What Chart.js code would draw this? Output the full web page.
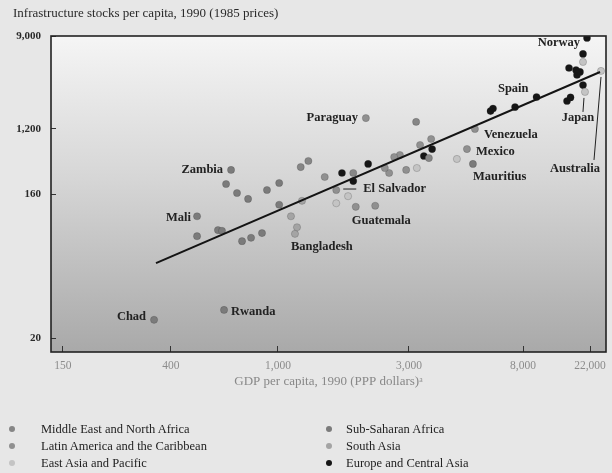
<!DOCTYPE html>
<html>
<head>
<meta charset="utf-8">
<script src="https://cdn.jsdelivr.net/npm/chart.js@4/dist/chart.umd.min.js"></script>
<style>
  html, body { margin: 0; padding: 0; background: #e7e7e7; }
  #wrap { position: relative; width: 612px; height: 473px; overflow: hidden; }
  #chart { position: absolute; left: 0; top: 0; }
  #legend { position: absolute; left: 0; top: 0; width: 612px; height: 473px; pointer-events: none;
            font-family: "Liberation Serif", serif; font-size: 12.5px; color: #222; }
  .lg-text { position: absolute; white-space: nowrap; line-height: 14px; }
  .lg-dot { position: absolute; width: 6px; height: 6px; border-radius: 50%; }
</style>
</head>
<body>
<div id="wrap">
  <canvas id="chart" width="612" height="473"></canvas>
  <div id="legend"></div>
</div>
<script>
// ---- Data: GDP per capita (PPP dollars) and infrastructure stock per capita, 1990 ----
const xTickValues = [150, 400, 1000, 3000, 8000, 22000];
const yTickValues = [20, 160, 1200, 9000];

const regionNames = [
  'Middle East and North Africa',
  'Latin America and the Caribbean',
  'East Asia and Pacific',
  'Sub-Saharan Africa',
  'South Asia',
  'Europe and Central Asia'
];

const menaGdp   = [3190, 3560, 1290, 1210, 1880];
const menaStock = [1400, 488, 445, 369, 307];

const lacGdp   = [2090, 5290, 4940, 1630, 1920, 2260, 2540, 2930, 2780, 2650, 2450, 3630, 3300, 1480];
const lacStock = [1520, 1200, 645, 181, 133, 135, 307, 337, 536, 504, 358, 880, 731, 271];

const eapGdp   = [25970, 20390, 19790, 4530, 3210, 1800, 1630];
const eapStock = [4220, 2680, 5130, 474, 358, 155, 140];

const ssaGdp   = [669, 641, 704, 774, 910, 1010, 500, 500, 598, 619, 735, 794, 872, 630, 343, 5200, 1010];
const ssaStock = [337, 218, 165, 149, 181, 225, 116, 87, 95, 94, 81, 85, 91, 30, 26, 406, 137];

const saGdp   = [1153, 1173, 1223, 1115];
const saStock = [90, 99, 145, 116];

const ecaGdp   = [21020, 19790, 16020, 17810, 18910, 18080, 19790, 16390, 15540, 9810, 7470, 6180, 6050, 1710, 1880, 2130, 3410, 3660];
const ecaStock = [8620, 6100, 4500, 4310, 4130, 3870, 3110, 2380, 2200, 2400, 1930, 1870, 1770, 307, 239, 406, 520, 645];

// fitted line end points
const trendGdp   = [349, 25590];
const trendStock = [59, 4127];

// named countries: region (dataset index) and point index
const countryLabels = [
  { text: 'Norway',      region: 5, index: 0 },
  { text: 'Spain',       region: 5, index: 9 },
  { text: 'Japan',       region: 2, index: 1 },
  { text: 'Australia',   region: 2, index: 0 },
  { text: 'Paraguay',    region: 1, index: 0 },
  { text: 'Venezuela',   region: 1, index: 1 },
  { text: 'Mexico',      region: 1, index: 2 },
  { text: 'El Salvador', region: 1, index: 3 },
  { text: 'Guatemala',   region: 1, index: 4 },
  { text: 'Zambia',      region: 3, index: 0 },
  { text: 'Mali',        region: 3, index: 6 },
  { text: 'Rwanda',      region: 3, index: 13 },
  { text: 'Chad',        region: 3, index: 14 },
  { text: 'Mauritius',   region: 3, index: 15 },
  { text: 'Bangladesh',  region: 4, index: 0 }
];

// ---- Styling / layout ----
const regionColors = ['#868686', '#909090', '#c4c4c4', '#7b7b7b', '#a4a4a4', '#161616'];

// label offsets (px) from the point, with optional leader line
const labelLayout = {
  'Norway':      { dx: -7,  dy: 5,  align: 'right' },
  'Spain':       { dx: -8,  dy: -8, align: 'right' },
  'Japan':       { dx: -7,  dy: 26, align: 'center', leader: [-1, 6, -2, 20] },
  'Australia':   { dx: -26, dy: 98, align: 'center', leader: [0, 6, -7, 89] },
  'Paraguay':    { dx: -8,  dy: 0,  align: 'right' },
  'Venezuela':   { dx: 9,   dy: 6,  align: 'left' },
  'Mexico':      { dx: 9,   dy: 3,  align: 'left' },
  'El Salvador': { dx: 27,  dy: -1, align: 'left', leader: [7, -1, 20, -1] },
  'Guatemala':   { dx: -4,  dy: 14, align: 'left' },
  'Zambia':      { dx: -8,  dy: 0,  align: 'right' },
  'Mali':        { dx: -6,  dy: 1,  align: 'right' },
  'Rwanda':      { dx: 7,   dy: 2,  align: 'left' },
  'Chad':        { dx: -8,  dy: -3, align: 'right' },
  'Mauritius':   { dx: 0,   dy: 13, align: 'left' },
  'Bangladesh':  { dx: -4,  dy: 13, align: 'left' }
};

// where each labelled tick sits along its axis (fraction of the axis length)
const axisKnots = {
  x: { values: xTickValues, pos: [0.0216, 0.2162, 0.4090, 0.6450, 0.8505, 0.9712] },
  y: { values: yTickValues, pos: [0.0443, 0.5000, 0.7057, 1.0000] }
};

// Logarithmic axis whose decades are stretched piecewise between labelled ticks
class KnotLogScale extends Chart.LogarithmicScale {
  static id = 'knotLog';
  static defaults = {};
  buildTicks() {
    return axisKnots[this.id].values.map(v => ({ value: v }));
  }
  _decimalFor(value) {
    const { values, pos } = axisKnots[this.id];
    const lv = Math.log10(value);
    let i = 0;
    while (i < values.length - 2 && lv > Math.log10(values[i + 1])) i++;
    const a = Math.log10(values[i]), b = Math.log10(values[i + 1]);
    return pos[i] + (lv - a) / (b - a) * (pos[i + 1] - pos[i]);
  }
  getPixelForValue(value) {
    if (value === undefined || value === null || !(value > 0)) return NaN;
    return this.getPixelForDecimal(this._decimalFor(value));
  }
  getValueForPixel(pixel) {
    const d = this.getDecimalForPixel(pixel);
    const { values, pos } = axisKnots[this.id];
    let i = 0;
    while (i < pos.length - 2 && d > pos[i + 1]) i++;
    const a = Math.log10(values[i]), b = Math.log10(values[i + 1]);
    return Math.pow(10, a + (d - pos[i]) / (pos[i + 1] - pos[i]) * (b - a));
  }
}
Chart.register(KnotLogScale);

// shaded plot area and its frame
const plotFrame = {
  id: 'plotFrame',
  beforeDraw(chart) {
    const { ctx, chartArea: a } = chart;
    const g = ctx.createLinearGradient(0, a.top, 0, a.bottom);
    g.addColorStop(0, '#f5f5f5');
    g.addColorStop(0.45, '#d6d6d6');
    g.addColorStop(1, '#a9a9a9');
    ctx.save();
    ctx.fillStyle = g;
    ctx.fillRect(a.left, a.top, a.right - a.left, a.bottom - a.top);
    ctx.restore();
  },
  afterDraw(chart) {
    const { ctx, chartArea: a } = chart;
    ctx.save();
    ctx.strokeStyle = '#222';
    ctx.lineWidth = 1.6;
    ctx.strokeRect(a.left, a.top, a.right - a.left, a.bottom - a.top);
    ctx.restore();
  }
};

// country names beside their points
const countryLabelPlugin = {
  id: 'countryLabels',
  afterDatasetsDraw(chart) {
    const ctx = chart.ctx;
    ctx.save();
    ctx.font = 'bold 12.5px "Liberation Serif", serif';
    ctx.fillStyle = '#222';
    ctx.strokeStyle = '#222';
    ctx.lineWidth = 1;
    ctx.textBaseline = 'middle';
    countryLabels.forEach(l => {
      const el = chart.getDatasetMeta(l.region).data[l.index];
      const lay = labelLayout[l.text];
      ctx.textAlign = lay.align;
      ctx.fillText(l.text, el.x + lay.dx, el.y + lay.dy);
      if (lay.leader) {
        ctx.beginPath();
        ctx.moveTo(el.x + lay.leader[0], el.y + lay.leader[1]);
        ctx.lineTo(el.x + lay.leader[2], el.y + lay.leader[3]);
        ctx.stroke();
      }
    });
    ctx.restore();
  }
};

Chart.defaults.font.family = '"Liberation Serif", serif';

const regionGdp   = [menaGdp, lacGdp, eapGdp, ssaGdp, saGdp, ecaGdp];
const regionStock = [menaStock, lacStock, eapStock, ssaStock, saStock, ecaStock];

const datasets = regionNames.map((name, i) => ({
  type: 'scatter',
  label: name,
  data: regionGdp[i].map((g, j) => ({ x: g, y: regionStock[i][j] })),
  backgroundColor: regionColors[i],
  borderColor: 'rgba(40,40,40,0.35)',
  borderWidth: 0.6,
  pointRadius: 3.6,
  order: 1
}));
datasets.push({
  type: 'line',
  label: 'Fitted line',
  data: trendGdp.map((g, j) => ({ x: g, y: trendStock[j] })),
  borderColor: '#141414',
  borderWidth: 2,
  pointRadius: 0,
  fill: false,
  order: 0
});

const fmt = v => Number(v).toLocaleString('en-US');

// keep the plot frame fixed regardless of how far edge labels overhang
const noEdgePadding = s => { s.paddingLeft = 0; s.paddingRight = 0; s.paddingTop = 0; s.paddingBottom = 0; };

const chart = new Chart(document.getElementById('chart'), {
  data: { datasets },
  plugins: [plotFrame, countryLabelPlugin],
  options: {
    responsive: false,
    animation: false,
    devicePixelRatio: 1,
    layout: { padding: { left: 13, right: 6, top: 0, bottom: 73 } },
    plugins: {
      legend: { display: false },
      tooltip: { enabled: false },
      title: {
        display: true,
        text: 'Infrastructure stocks per capita, 1990 (1985 prices)',
        align: 'start',
        color: '#2a2a2a',
        font: { size: 13, weight: 'normal', lineHeight: 1.2 },
        padding: { top: 6, bottom: 14.4 }
      }
    },
    scales: {
      x: {
        type: 'knotLog',
        position: 'bottom',
        min: 134,
        max: 28000,
        afterFit: s => { s.height = 48; noEdgePadding(s); },
        border: { display: false },
        grid: { drawOnChartArea: false, drawTicks: true, tickLength: -6, color: '#333', lineWidth: 1 },
        ticks: { autoSkip: false, maxRotation: 0, padding: 13, color: '#8c8c8c',
                 font: { size: 11.5 }, callback: fmt },
        title: { display: true, text: 'GDP per capita, 1990 (PPP dollars)\u1D43', color: '#888',
                 font: { size: 13 }, padding: { top: 0, bottom: 11 } }
      },
      y: {
        type: 'knotLog',
        position: 'left',
        min: 16.3,
        max: 9000,
        afterFit: s => { s.width = 38; noEdgePadding(s); },
        border: { display: false },
        grid: { drawOnChartArea: false, drawTicks: true, tickLength: -5, color: '#333', lineWidth: 1 },
        ticks: { autoSkip: false, padding: 15, color: '#2a2a2a',
                 font: { size: 11, weight: 'bold' }, callback: fmt }
      }
    }
  }
});

// two-column legend built from the chart's datasets
const legendSlots = [
  { col: 0, row: 0 }, { col: 0, row: 1 }, { col: 0, row: 2 },
  { col: 1, row: 0 }, { col: 1, row: 1 }, { col: 1, row: 2 }
];
const legendCols = [{ dot: 12, text: 41 }, { dot: 329, text: 346 }];
const legendRows = [429, 446, 463];
const legendEl = document.getElementById('legend');
chart.data.datasets.slice(0, regionNames.length).forEach((ds, i) => {
  const slot = legendSlots[i];
  const c = legendCols[slot.col], y = legendRows[slot.row];
  const dot = document.createElement('div');
  dot.className = 'lg-dot';
  dot.style.left = (c.dot - 3) + 'px';
  dot.style.top = (y - 3) + 'px';
  dot.style.background = ds.backgroundColor;
  legendEl.appendChild(dot);
  const t = document.createElement('div');
  t.className = 'lg-text';
  t.style.left = c.text + 'px';
  t.style.top = (y - 7) + 'px';
  t.textContent = ds.label;
  legendEl.appendChild(t);
});
</script>
</body>
</html>
